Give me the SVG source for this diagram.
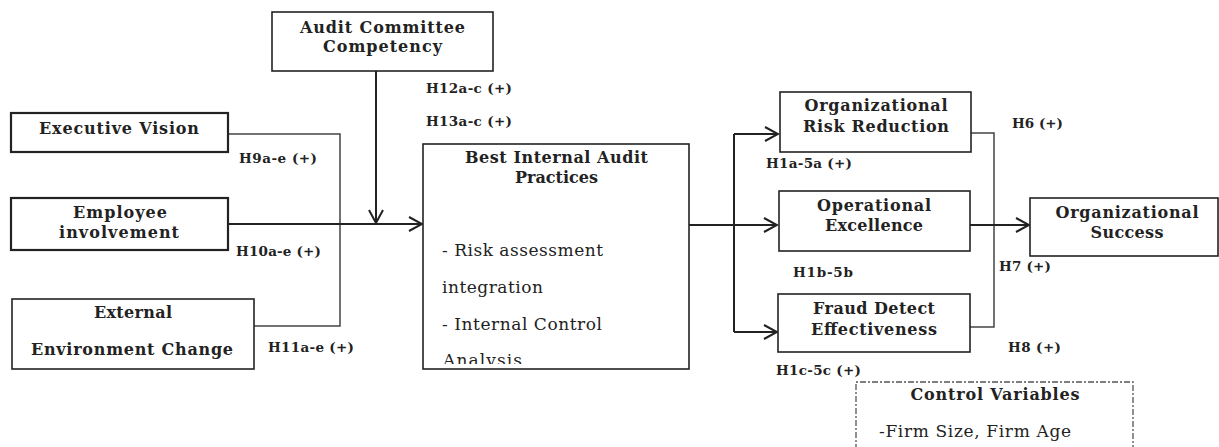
<svg xmlns="http://www.w3.org/2000/svg" width="1219" height="447" viewBox="0 0 1219 447">
<style>
.box{fill:#fff;stroke:#222;stroke-width:1.6}
.thick{stroke-width:2.2}
.t{font-family:"DejaVu Serif","Liberation Serif",serif;font-weight:bold;font-size:16px;fill:#222;text-anchor:middle}
.h{font-family:"DejaVu Serif","Liberation Serif",serif;font-weight:bold;font-size:13.5px;fill:#222}
.n{font-family:"DejaVu Serif","Liberation Serif",serif;font-size:17px;fill:#222}
.c{fill:none;stroke:#222;stroke-width:2}
.c2{fill:none;stroke:#444;stroke-width:1.5}
</style>
<defs>
<marker id="ar" markerUnits="userSpaceOnUse" markerWidth="16" markerHeight="18" refX="14" refY="8" orient="auto">
<path d="M1,1 L14,8 L1,15" fill="none" stroke="#222" stroke-width="2"/>
</marker>
<clipPath id="clipA"><rect x="423" y="140" width="266" height="224"/></clipPath>
</defs>
<rect width="1219" height="447" fill="#fff"/>
<g id="connectors">
<path class="c" d="M376,71 V223" marker-end="url(#ar)"/>
<path class="c2" d="M228,134 H340 V326 H254"/>
<path class="c" d="M228,224 H422" marker-end="url(#ar)"/>
<path class="c" d="M686,225 H777" marker-end="url(#ar)"/>
<path class="c" d="M734,134 V332"/>
<path class="c" d="M734,134 H778" marker-end="url(#ar)"/>
<path class="c" d="M734,332 H777" marker-end="url(#ar)"/>
<path class="c2" d="M971,133 H994 V327 H970"/>
<path class="c" d="M970,225 H1029" marker-end="url(#ar)"/>
</g>
<g id="labels">
<text class="h" x="239" y="163" textLength="78">H9a-e (+)</text>
<text class="h" x="236" y="256" textLength="85">H10a-e (+)</text>
<text class="h" x="268" y="352" textLength="86">H11a-e (+)</text>
<text class="h" x="426" y="93" textLength="86">H12a-c (+)</text>
<text class="h" x="426" y="126" textLength="86">H13a-c (+)</text>
<text class="h" x="1012" y="128" textLength="51">H6 (+)</text>
<text class="h" x="766" y="168" textLength="86">H1a-5a (+)</text>
<text class="h" x="999" y="271" textLength="52">H7 (+)</text>
<text class="h" x="793" y="277" textLength="60">H1b-5b</text>
<text class="h" x="1008" y="352" textLength="53">H8 (+)</text>
<text class="h" x="776" y="375" textLength="85">H1c-5c (+)</text>
</g>
<g id="audit-committee">
<rect class="box" x="272" y="12" width="221" height="59"/>
<text class="t" x="382.5" y="33" textLength="165">Audit Committee</text>
<text class="t" x="382.5" y="52" textLength="119">Competency</text>
</g>
<g id="executive-vision">
<rect class="box thick" x="11" y="113" width="217" height="39"/>
<text class="t" x="119" y="134" textLength="160">Executive Vision</text>
</g>
<g id="employee-involvement">
<rect class="box thick" x="11" y="198" width="217" height="52"/>
<text class="t" x="120" y="218" textLength="94">Employee</text>
<text class="t" x="119" y="238" textLength="120">involvement</text>
</g>
<g id="external-environment">
<rect class="box" x="12" y="299" width="242" height="70"/>
<text class="t" x="133" y="318" textLength="78">External</text>
<text class="t" x="132" y="355" textLength="202">Environment Change</text>
</g>
<g id="best-practices">
<rect class="box" x="423" y="144" width="266" height="225"/>
<text class="t" x="556.5" y="163" textLength="183">Best Internal Audit</text>
<text class="t" x="556.5" y="183" textLength="83">Practices</text>
<text class="n" x="442" y="256" textLength="161">- Risk assessment</text>
<text class="n" x="442" y="293" textLength="101">integration</text>
<text class="n" x="442" y="330" textLength="160">- Internal Control</text>
<text class="n" x="443" y="366" textLength="79" clip-path="url(#clipA)">Analysis</text>
</g>
<g id="risk-reduction">
<rect class="box" x="780" y="92" width="191" height="60"/>
<text class="t" x="876" y="111" textLength="143">Organizational</text>
<text class="t" x="876" y="132" textLength="146">Risk Reduction</text>
</g>
<g id="operational-excellence">
<rect class="box" x="779" y="191" width="191" height="60"/>
<text class="t" x="874" y="211" textLength="114">Operational</text>
<text class="t" x="874" y="231" textLength="98">Excellence</text>
</g>
<g id="fraud-detect">
<rect class="box" x="778" y="294" width="192" height="58"/>
<text class="t" x="874" y="314" textLength="122">Fraud Detect</text>
<text class="t" x="874" y="335" textLength="126">Effectiveness</text>
</g>
<g id="organizational-success">
<rect class="box" x="1030" y="198" width="188" height="58"/>
<text class="t" x="1127" y="218" textLength="143">Organizational</text>
<text class="t" x="1127" y="238" textLength="73">Success</text>
</g>
<g id="control-variables">
<path d="M856,450 V382 H1133 V450" fill="none" stroke="#555" stroke-width="1.3" stroke-dasharray="6,2,2,2"/>
<text class="t" x="995" y="400" textLength="169">Control Variables</text>
<text class="n" x="879" y="437" textLength="192">-Firm Size, Firm Age</text>
</g>
</svg>
